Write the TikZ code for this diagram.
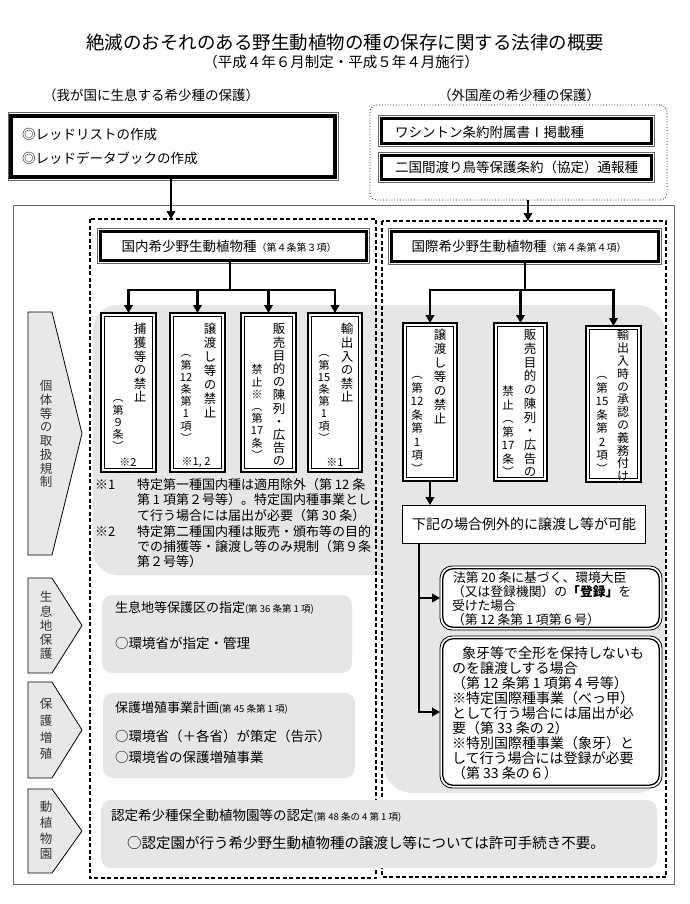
\documentclass[tikz,border=0pt]{standalone}
\usepackage{fontspec}
\setmainfont{Noto Sans CJK JP}
\newfontfamily\cjkv[RawFeature=+vert]{Noto Sans CJK JP}
\usetikzlibrary{arrows.meta,fit,calc}
\definecolor{bg}{HTML}{E6E6E6}
\definecolor{pg}{HTML}{E8E8E8}
\definecolor{pt}{HTML}{333333}
\newcommand\fs[1]{\fontsize{#1}{#1}\selectfont}
\newcommand\frameoff[3]{\draw[#3] ([shift={(-#2,-#2)}]#1.north west) rectangle ([shift={(#2,#2)}]#1.south east);}
% vertical column: [opts]{name}{x}{y0}{pitch}{size}{list}
\newcommand\vcol[7][]{%
  \foreach \c [count=\i from 0] in {#7} {\node[inner sep=0,outer sep=0,font=\cjkv\fs{#6},text height=0.84em,text depth=0.08em,#1] (#2-\i) at (#3,{#4+\i*#5}) {\c};}}
\begin{document}
\begin{tikzpicture}[x=1pt,y=-1pt,
  tx/.style={inner sep=0,outer sep=0,anchor=west,font=\fs{13.5}},
  hbox/.style={draw,line width=3.2,fill=white,inner sep=0,outer sep=0},
  vbox/.style={draw,line width=1.6,fill=white,inner sep=0,outer sep=0},
  thinbox/.style={draw,line width=0.9,fill=white,inner sep=0,outer sep=0},
  rbox/.style={draw,line width=0.8,fill=white,rounded corners=12,inner sep=0,outer sep=0},
  gbox/.style={fill=bg,rounded corners=10,inner sep=0,outer sep=0},
  dashbox/.style={draw,dash pattern=on 4pt off 2.5pt,line width=1.1},
  trunk/.style={line width=2.8},
  arr/.style={line width=2.8,-{Triangle[length=8pt,width=8.5pt]}},
  pent/.style={draw,fill=pg,line width=0.8}]
\useasboundingbox (0,0) rectangle (690,904);
\fill[white] (0,0) rectangle (690,904);

% titles
\node[font=\fs{18.5}] (title) at (345,42) {絶滅のおそれのある野生動植物の種の保存に関する法律の概要};
\node[font=\fs{14.5}] (sub) at (341,62) {（平成４年６月制定・平成５年４月施行）};
\node[font=\fs{13.5}] (lhd) at (151,95) {（我が国に生息する希少種の保護）};
\node[font=\fs{13.5}] (rhd) at (519,95) {（外国産の希少種の保護）};

% outer frame
\draw[line width=0.8,black!60] (13,205) rectangle (674,884);

% gray background regions
\fill[bg,rounded corners=25] (93,305) rectangle (450,575);
\fill[bg,rounded corners=30] (383,305) rectangle (666,793);

% dashed boxes
\draw[dashbox] (90,219) rectangle (376,878);
\draw[dashbox] (382,221) rectangle (666,877);

% pentagons
\draw[pent] (28,312) -- (52,312) -- (82,433.5) -- (52,555) -- (28,555) -- cycle;
\draw[pent] (28,578) -- (52,578) -- (82,625.5) -- (52,673) -- (28,673) -- cycle;
\draw[pent] (28,682) -- (52,682) -- (82,730) -- (52,778) -- (28,778) -- cycle;
\draw[pent] (28,789) -- (52,789) -- (82,831) -- (52,873) -- (28,873) -- cycle;
\vcol[text=pt]{p1t}{46}{387}{13.7}{12.5}{個,体,等,の,取,扱,規,制}
\vcol[text=pt]{p2t}{46}{598}{14.2}{12.5}{生,息,地,保,護}
\vcol[text=pt]{p3t}{46}{705}{16.7}{12.5}{保,護,増,殖}
\vcol[text=pt]{p4t}{46}{808}{15.7}{12.5}{動,植,物,園}

% top left box
\node[hbox,fit={(11,116)(335,177)}] (lb) {};
\frameoff{lb}{3.2}{line width=0.6,black!60}
\node[tx] (lt1) at (22,134) {◎レッドリストの作成};
\node[tx] (lt2) at (22,158) {◎レッドデータブックの作成};
\coordinate (la) at (171,219);
\draw[arr] (lb.south -| la) -- (la);

% top right dotted group
\node[draw,dotted,line width=0.8,rounded corners=7,inner sep=0,outer sep=0,fit={(370,105)(667,200)}] (rd) {};
\node[hbox,fit={(381.5,118.5)(651.5,143.5)}] (w1) {};
\frameoff{w1}{3.2}{line width=0.6,black!60}
\node[hbox,fit={(381.5,155.5)(651.5,179.5)}] (w2) {};
\frameoff{w2}{3.2}{line width=0.6,black!60}
\node[tx] (w1t) at (395,132) {ワシントン条約附属書Ⅰ掲載種};
\node[tx] (w2t) at (395,167) {二国間渡り鳥等保護条約（協定）通報種};
\coordinate (ra) at (528,221);
\draw[arr] (rd.south -| ra) -- (ra);

% header boxes
\node[hbox,fit={(100.5,231.5)(366.5,260.5)}] (h1) {};
\frameoff{h1}{3.2}{line width=0.6,black!60}
\node[font=\fs{13.5}] (h1t) at (229,246) {国内希少野生動植物種{\fs{10}（第４条第３項）}};
\node[hbox,fit={(391.5,231.5)(658.5,261.5)}] (h2) {};
\frameoff{h2}{3.2}{line width=0.6,black!60}
\node[font=\fs{13.5}] (h2t) at (519,246) {国際希少野生動植物種{\fs{10}（第４条第４項）}};

% left vertical boxes
\node[vbox,fit={(101,313)(156,472)}] (b1) {};
\node[vbox,fit={(170,313)(225,472)}] (b2) {};
\node[vbox,fit={(241,313)(296,472)}] (b3) {};
\node[vbox,fit={(308,313)(362,472)}] (b4) {};
\foreach \b in {b1,b2,b3,b4} {\frameoff{\b}{-3.5}{line width=0.6}}
\coordinate (j1) at (230,290);
\draw[trunk] (h1.south -| j1) -- (j1);
\draw[trunk,line cap=rect] (b1.north |- j1) -- (b4.north |- j1);
\foreach \b in {b1,b2,b3,b4} {\draw[arr] (\b.north |- j1) -- (\b.north);}

\vcol{b1r}{140}{330}{13.6}{12.5}{捕,獲,等,の,禁,止}
\vcol{b1l}{118}{398}{12.2}{11}{（,第,９,条,）}
\node[font=\fs{11}] (b1n) at (128,462) {※2};
\vcol{b2r}{210}{330}{14}{12.5}{譲,渡,し,等,の,禁,止}
\vcol{b2l}{186}{353}{12.2}{11}{（,第,12,条,第,1,項,）}
\node[font=\fs{11}] (b2n) at (196,462) {※1, 2};
\vcol{b3r}{279}{330}{13.2}{12.5}{販,売,目,的,の,陳,列,・,広,告,の}
\vcol{b3l}{257}{370}{12.2}{11}{禁,止,※,（,第,17,条,）}
\vcol{b4r}{347}{330}{13.6}{12.5}{輸,出,入,の,禁,止}
\vcol{b4l}{324}{353}{12.2}{11}{（,第,15,条,第,1,項,）}
\node[font=\fs{11}] (b4n) at (335,462) {※1};

% notes
\node[tx,font=\fs{13}] (n1m) at (95,485) {※1};
\node[tx,font=\fs{13}] (n1a) at (137,485) {特定第一種国内種は適用除外（第 12 条};
\node[tx,font=\fs{13}] (n1b) at (137,500) {第 1 項第２号等）。特定国内種事業とし};
\node[tx,font=\fs{13}] (n1c) at (137,516) {て行う場合には届出が必要（第 30 条）};
\node[tx,font=\fs{13}] (n2m) at (95,532) {※2};
\node[tx,font=\fs{13}] (n2a) at (137,532) {特定第二種国内種は販売・頒布等の目的};
\node[tx,font=\fs{13}] (n2b) at (137,547) {での捕獲等・譲渡し等のみ規制（第９条};
\node[tx,font=\fs{13}] (n2c) at (137,562) {第２号等）};

% right vertical boxes
\node[vbox,fit={(403,323)(457,481)}] (bA) {};
\node[vbox,fit={(494,323)(547,481)}] (bB) {};
\node[vbox,fit={(586,326)(641,482)}] (bC) {};
\foreach \b in {bA,bB,bC} {\frameoff{\b}{-3.5}{line width=0.6}}
\coordinate (j2) at (522,290);
\draw[trunk] (h2.south) -- (h2.south |- j2);
\draw[trunk,line cap=rect] (bA.north |- j2) -- (bC.north |- j2);
\foreach \b in {bA,bB,bC} {\draw[arr] (\b.north |- j2) -- (\b.north);}

\vcol{bAr}{440}{336}{14}{12.5}{譲,渡,し,等,の,禁,止}
\vcol{bAl}{417}{375}{13.5}{11.5}{（,第,12,条,第,1,項,）}
\vcol{bBr}{530}{336}{13.7}{12.5}{販,売,目,的,の,陳,列,・,広,告,の}
\vcol{bBl}{508}{392}{13.5}{11.5}{禁,止,（,第,17,条,）}
\vcol{bCr}{623}{336}{12.8}{12}{輸,出,入,時,の,承,認,の,義,務,付,け}
\vcol{bCl}{602}{375}{13.5}{11.5}{（,第,15,条,第,2,項,）}

% exception box
\node[thinbox,fit={(402,505)(645,543)}] (ka) {};
\node[tx,font=\fs{14}] (kat) at (412,524) {下記の場合例外的に譲渡し等が可能};
\draw[arr] (bA.south) -- (bA.south |- ka.north);

\node[rbox,fit={(440,566)(662,630)}] (r1) {};
\draw[line width=1.3,rounded corners=10] ([shift={(2.8,2.8)}]r1.north west) rectangle ([shift={(-2.8,-2.8)}]r1.south east);
\node[rbox,fit={(440,636)(662,788)}] (r2) {};
\draw[line width=1.3,rounded corners=10] ([shift={(2.8,2.8)}]r2.north west) rectangle ([shift={(-2.8,-2.8)}]r2.south east);

\coordinate (kb) at ($(ka.south west)+(17,0)$);
\draw[arr] (kb) |- (r2.west);
\draw[arr] (kb |- r1.west) -- (r1.west);

\node[tx,font=\fs{12.8}] (r1a) at (453,578) {法第 20 条に基づく、環境大臣};
\node[tx,font=\fs{12.8}] (r1b) at (452,592) {（又は登録機関）の{\bfseries 「登録」}を};
\node[tx,font=\fs{12.8}] (r1c) at (452,606) {受けた場合};
\node[tx,font=\fs{12.8}] (r1d) at (452,620) {（第 12 条第 1 項第 6 号）};

\node[tx,font=\fs{14}] (r2a) at (462,653) {象牙等で全形を保持しないも};
\node[tx,font=\fs{14}] (r2b) at (452,668) {のを譲渡しする場合};
\node[tx,font=\fs{14}] (r2c) at (452,683) {（第 12 条第 1 項第 4 号等）};
\node[tx,font=\fs{14}] (r2d) at (452,698) {※特定国際種事業（べっ甲）};
\node[tx,font=\fs{14}] (r2e) at (452,713) {として行う場合には届出が必};
\node[tx,font=\fs{14}] (r2f) at (452,728) {要（第 33 条の 2）};
\node[tx,font=\fs{14}] (r2g) at (452,743) {※特別国際種事業（象牙）と};
\node[tx,font=\fs{14}] (r2h) at (452,758) {して行う場合には登録が必要};
\node[tx,font=\fs{14}] (r2i) at (452,773) {（第 33 条の６）};

% gray boxes
\node[gbox,fit={(102,595)(352,673)}] (gb1) {};
\node[tx,font=\fs{13}] (gb1a) at (115,608) {生息地等保護区の指定{\fs{9.5}(第 36 条第 1 項)}};
\node[tx] (gb1b) at (115,643) {○環境省が指定・管理};

\node[gbox,fit={(103,693)(355,778)}] (gb2) {};
\node[tx,font=\fs{13}] (gb2a) at (115,708) {保護増殖事業計画{\fs{9.5}(第 45 条第 1 項)}};
\node[tx] (gb2b) at (115,736) {○環境省（＋各省）が策定（告示）};
\node[tx] (gb2c) at (115,757) {○環境省の保護増殖事業};

\node[gbox,fit={(101,800)(657,868)}] (gb3) {};
\node[tx] (gb3a) at (111,816) {認定希少種保全動植物園等の認定{\fs{9.5}(第 48 条の 4 第 1 項)}};
\node[tx,font=\fs{14.5}] (gb3b) at (127,843) {○認定園が行う希少野生動植物種の譲渡し等については許可手続き不要。};
\end{tikzpicture}
\end{document}
